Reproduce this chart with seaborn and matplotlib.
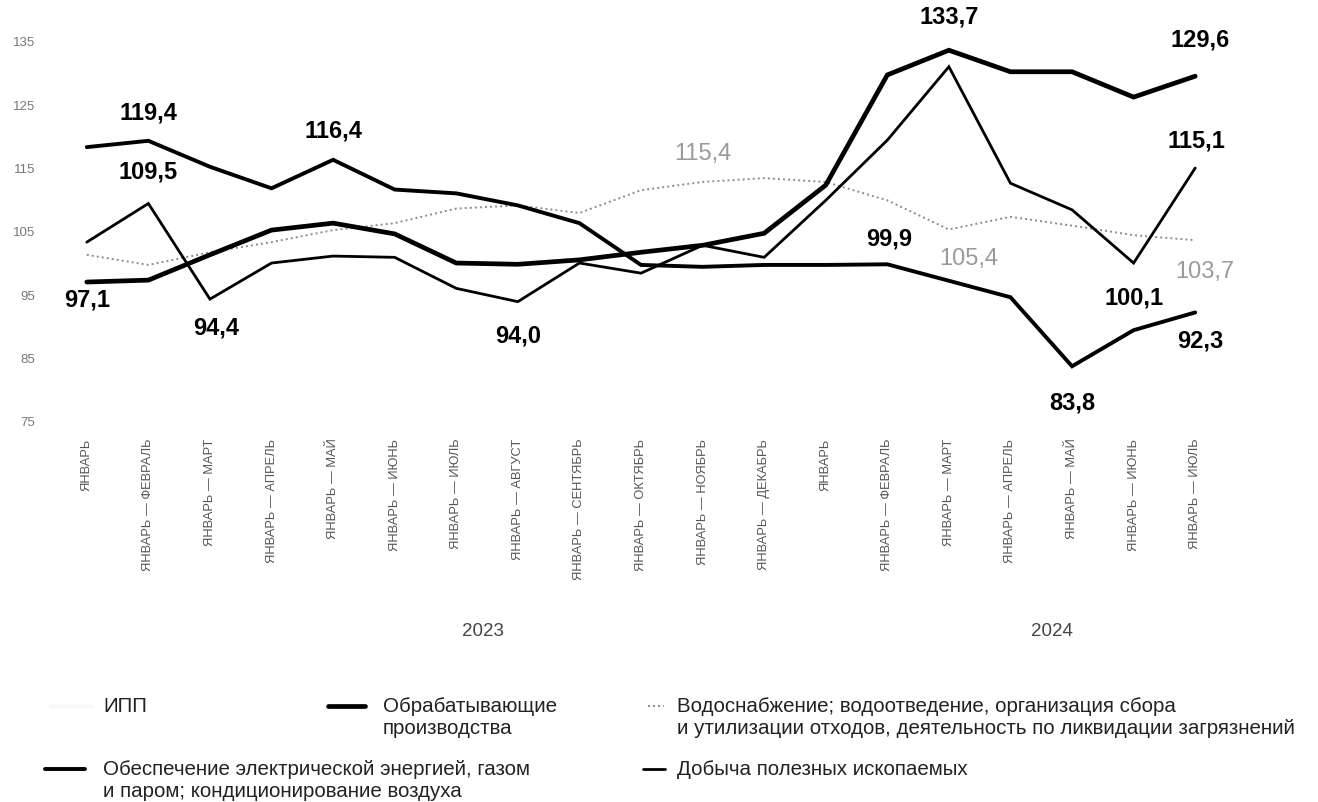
import matplotlib
matplotlib.use("Agg")
import matplotlib.pyplot as plt
import seaborn as sns
import pandas as pd
from matplotlib.lines import Line2D
from matplotlib import font_manager

# ---------------- data ----------------
categories = [
    "ЯНВАРЬ", "ЯНВАРЬ — ФЕВРАЛЬ", "ЯНВАРЬ — МАРТ", "ЯНВАРЬ — АПРЕЛЬ", "ЯНВАРЬ — МАЙ",
    "ЯНВАРЬ — ИЮНЬ", "ЯНВАРЬ — ИЮЛЬ", "ЯНВАРЬ — АВГУСТ", "ЯНВАРЬ — СЕНТЯБРЬ",
    "ЯНВАРЬ — ОКТЯБРЬ", "ЯНВАРЬ — НОЯБРЬ", "ЯНВАРЬ — ДЕКАБРЬ",
    "ЯНВАРЬ", "ЯНВАРЬ — ФЕВРАЛЬ", "ЯНВАРЬ — МАРТ", "ЯНВАРЬ — АПРЕЛЬ", "ЯНВАРЬ — МАЙ",
    "ЯНВАРЬ — ИЮНЬ", "ЯНВАРЬ — ИЮЛЬ",
]
years = ["2023", "2024"]

manufacturing = [97.1, 97.4, 101.4, 105.3, 106.4, 104.7, 100.1, 99.9, 100.6, 101.8,
                 102.9, 104.8, 112.4, 129.8, 133.7, 130.3, 130.3, 126.3, 129.6]
electricity = [118.4, 119.4, 115.3, 111.9, 116.4, 111.7, 111.1, 109.2, 106.4, 99.8,
               99.5, 99.8, 99.8, 99.9, 97.3, 94.7, 83.8, 89.5, 92.3]
mining = [103.4, 109.5, 94.4, 100.1, 101.2, 101.0, 96.1, 94.0, 100.1, 98.5,
          102.9, 101.0, 110.0, 119.5, 131.1, 112.7, 108.5, 100.1, 115.1]
water = [101.4, 99.8, 101.8, 103.4, 105.3, 106.4, 108.7, 109.2, 108.0, 111.6,
         112.9, 113.5, 112.9, 110.0, 105.4, 107.4, 106.0, 104.5, 103.7]

series_names = [
    "ИПП",
    "Обрабатывающие\nпроизводства",
    "Водоснабжение; водоотведение, организация сбора\nи утилизации отходов, деятельность по ликвидации загрязнений",
    "Обеспечение электрической энергией, газом\nи паром; кондиционирование воздуха",
    "Добыча полезных ископаемых",
]

# value labels: (series key, category index, text)
value_labels = [
    ("electricity", 1, "119,4"), ("electricity", 4, "116,4"),
    ("mining", 1, "109,5"), ("manufacturing", 0, "97,1"),
    ("mining", 2, "94,4"), ("mining", 7, "94,0"),
    ("water", 10, "115,4"), ("electricity", 13, "99,9"),
    ("water", 14, "105,4"), ("manufacturing", 14, "133,7"),
    ("manufacturing", 18, "129,6"), ("mining", 18, "115,1"),
    ("mining", 17, "100,1"), ("water", 18, "103,7"),
    ("electricity", 16, "83,8"), ("electricity", 18, "92,3"),
]

# ---------------- style ----------------
sns.set_theme(style="white")
avail = {f.name for f in font_manager.fontManager.ttflist}
base_font = "Liberation Sans" if "Liberation Sans" in avail else "DejaVu Sans"
plt.rcParams["font.family"] = [base_font, "DejaVu Sans"]

W, H = 1318, 802
fig = plt.figure(figsize=(W / 100, H / 100), dpi=100)
ax = fig.add_axes([56 / W, 1 - 422 / H, (1226 - 56) / W, (422 - 42) / H])

x = list(range(len(categories)))
data = {"manufacturing": manufacturing, "electricity": electricity,
        "mining": mining, "water": water}
styles = {
    "manufacturing": dict(color="black", lw=3.4),
    "electricity": dict(color="black", lw=2.8),
    "mining": dict(color="black", lw=2.0),
    "water": dict(color="#8c8c8c", lw=1.4, dashes=(1, 1.6)),
}
order = ["water", "mining", "electricity", "manufacturing"]
for key in order:
    df = pd.DataFrame({"x": x, "y": data[key]})
    st = styles[key]
    sns.lineplot(data=df, x="x", y="y", ax=ax, legend=False,
                 color=st["color"], linewidth=st["lw"])
    if "dashes" in st:
        ax.lines[-1].set_dashes(st["dashes"])
    ax.lines[-1].set_solid_joinstyle("miter")
    ax.lines[-1].set_clip_on(False)

label_offsets = {  # pixels (dx, dy)
    "119,4": (0, 28), "116,4": (0, 29), "109,5": (0, 32), "97,1": (0, -18),
    "94,4": (6, -29), "94,0": (0, -34), "115,4": (0, 28), "99,9": (2, 25),
    "105,4": (20, -30), "133,7": (0, 33), "129,6": (5, 36), "115,1": (1, 27),
    "100,1": (0, -35), "103,7": (10, -32), "83,8": (0, -37), "92,3": (5, -29),
}
for key, i, txt in value_labels:
    grey = key == "water"
    ax.annotate(txt, xy=(i, data[key][i]), xytext=label_offsets[txt],
                textcoords="offset pixels", ha="center", va="center",
                fontsize=17, fontweight="normal" if grey else "bold",
                color="#9a9a9a" if grey else "black", annotation_clip=False)

ax.set_xlim(-0.5, len(categories) - 0.5)
ax.set_ylim(75, 135)
ax.set_yticks([75, 85, 95, 105, 115, 125, 135])
ax.set_xticks(x)
ax.set_xticklabels(categories, rotation=90, fontsize=9.3, color="#555555", va="top")
ax.tick_params(axis="y", labelsize=9.5, labelcolor="#777777", length=0, pad=15)
ax.tick_params(axis="x", length=0, pad=12)
ax.set_xlabel("")
ax.set_ylabel("")
for s in ax.spines.values():
    s.set_visible(False)
ax.grid(False)

# year labels
fig.text(483 / W, 1 - 632 / H, years[0], ha="center", va="center", fontsize=13.5, color="#444444")
fig.text(1052 / W, 1 - 632 / H, years[1], ha="center", va="center", fontsize=13.5, color="#444444")

# legend (manual layout)
def fx(px):
    return px / W

def fy(py):
    return 1 - py / H

leg = [
    (series_names[0], 50, 92, 706, dict(color="#f7f7f7", lw=2.5)),
    (series_names[1], 328, 365, 706, dict(color="black", lw=3.4)),
    (series_names[2], 648, 664, 706, dict(color="#8c8c8c", lw=1.4, ls=(0, (1, 1.6)))),
    (series_names[3], 45, 85, 769, dict(color="black", lw=2.8)),
    (series_names[4], 643, 665, 769, dict(color="black", lw=2.0)),
]
text_x = [103, 383, 677, 103, 677]
for (name, x0, x1, yy, st), tx in zip(leg, text_x):
    fig.add_artist(Line2D([fx(x0), fx(x1)], [fy(yy), fy(yy)], transform=fig.transFigure,
                          color=st["color"], linewidth=st["lw"], linestyle=st.get("ls", "-")))
    fig.text(fx(tx), fy(yy - 9), name, ha="left", va="top", fontsize=14.8,
             color="#222222", linespacing=1.17)

fig.savefig("out.png", dpi=100)
